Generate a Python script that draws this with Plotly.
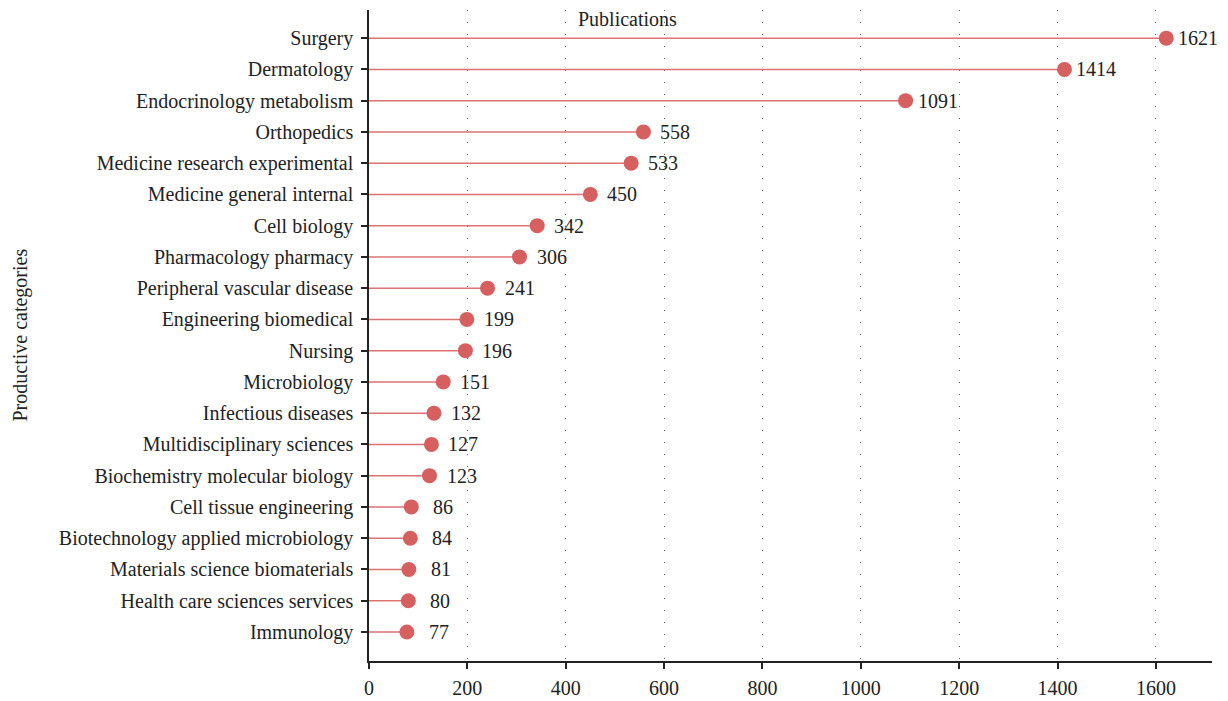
import plotly.graph_objects as go

categories = ["Surgery", "Dermatology", "Endocrinology metabolism", "Orthopedics",
              "Medicine research experimental", "Medicine general internal", "Cell biology",
              "Pharmacology pharmacy", "Peripheral vascular disease", "Engineering biomedical",
              "Nursing", "Microbiology", "Infectious diseases", "Multidisciplinary sciences",
              "Biochemistry molecular biology", "Cell tissue engineering",
              "Biotechnology applied microbiology", "Materials science biomaterials",
              "Health care sciences services", "Immunology"]
values = [1621, 1414, 1091, 558, 533, 450, 342, 306, 241, 199, 196, 151, 132, 127, 123, 86, 84, 81, 80, 77]
x_ticks = [0, 200, 400, 600, 800, 1000, 1200, 1400, 1600]

FONT = "Liberation Serif"
FS = 20
RED = "#d5605f"
LINE = "#dd7272"
OFF = 8  # page body margin
W, H = 1228 - OFF, 701 - OFF
L, R, T, B = 369 - OFF, 16, 10 - OFF, 40

fig = go.Figure()
xs, ys = [], []
for c, v in zip(categories, values):
    xs += [0, v, None]
    ys += [c, c, None]
fig.add_trace(go.Scatter(x=xs, y=ys, mode="lines", line=dict(color=LINE, width=1.5),
                         hoverinfo="skip", showlegend=False))
fig.add_trace(go.Scatter(x=values, y=categories, mode="markers",
                         marker=dict(color=RED, size=15), cliponaxis=False,
                         showlegend=False))

pw = W - L - R
annotations = [dict(x=v, y=c, xref="x", yref="y", text=str(v), showarrow=False,
                    xshift=32, xanchor="center", yanchor="middle",
                    font=dict(family=FONT, size=FS, color="#222"))
               for c, v in zip(categories, values)]
annotations.append(dict(text="Publications", x=(627 - 369) / pw, y=1.0, xref="paper",
                        yref="paper", showarrow=False, xanchor="center", yanchor="top", yshift=4,
                        font=dict(size=FS, family=FONT, color="#222")))
annotations.append(dict(text="Productive categories", x=(20 - 369) / pw, y=0.5, xref="paper",
                        yref="paper", showarrow=False, textangle=-90, xanchor="center",
                        yanchor="middle", font=dict(size=FS, family=FONT, color="#222")))

fig.update_layout(
    width=W, height=H,
    margin=dict(l=L, r=R, t=T, b=B),
    plot_bgcolor="white", paper_bgcolor="white",
    font=dict(family=FONT, size=FS, color="#222"),
    xaxis=dict(range=[0, 1714], tickvals=x_ticks, showline=True, linecolor="#222", linewidth=1.5,
               ticks="outside", ticklen=6, tickcolor="#222", tickwidth=1.5,
               showgrid=True, gridcolor="#555", gridwidth=1, griddash="1px,11px",
               zeroline=False, tickfont=dict(size=FS), automargin=False, ticklabelstandoff=2),
    yaxis=dict(categoryorder="array", categoryarray=categories[::-1], range=[-0.93, 19.9],
               showline=True, linecolor="#222", linewidth=1.5,
               ticks="outside", ticklen=6, tickcolor="#222", tickwidth=1.5, showgrid=False,
               tickfont=dict(size=FS), automargin=False, ticklabelstandoff=4),
    annotations=annotations,
)
fig.write_html("out.html")
